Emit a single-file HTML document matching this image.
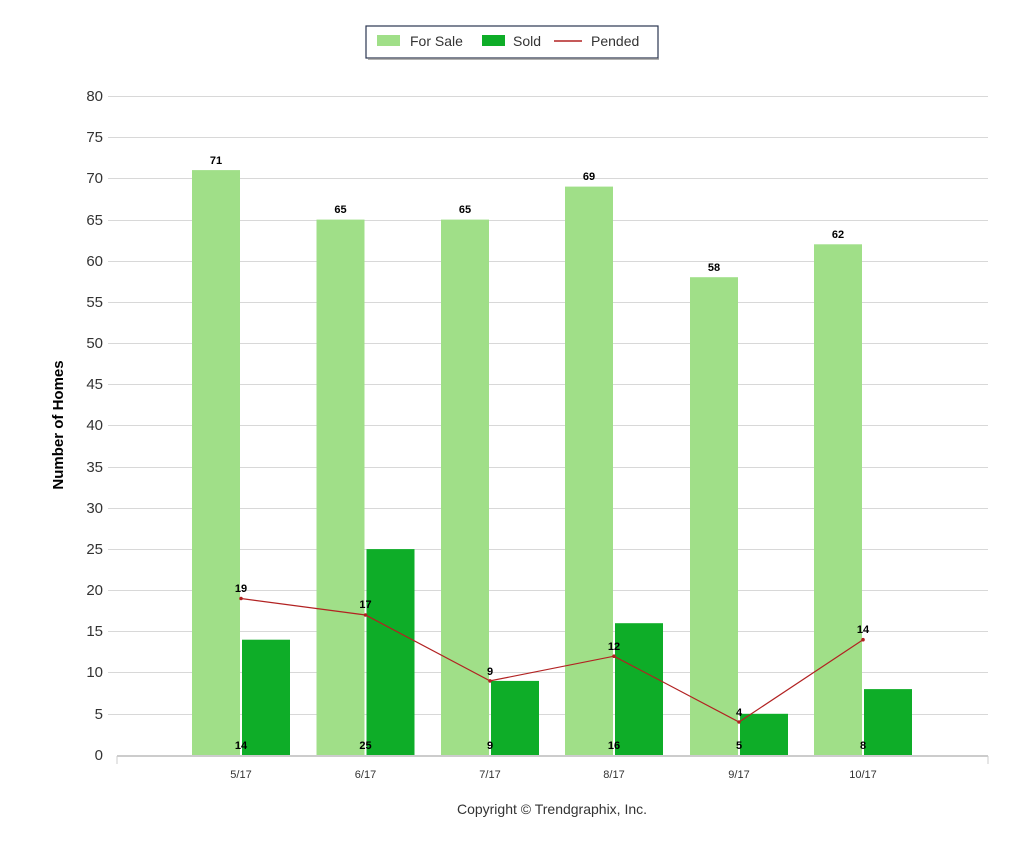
<!DOCTYPE html>
<html><head><meta charset="utf-8"><style>
body{margin:0;background:#fff;}
svg{display:block;font-family:"Liberation Sans",sans-serif;}
.yl{font-size:15px;fill:#333;text-anchor:end;}
.xl{font-size:11px;fill:#333;text-anchor:middle;}
.dl{font-size:11px;font-weight:bold;fill:#000;text-anchor:middle;}
</style></head><body>
<svg width="1024" height="853" viewBox="0 0 1024 853">
<rect x="366" y="26" width="292" height="32" fill="#fff" stroke="#2a3550" stroke-width="1.2"/>
<line x1="368" y1="59" x2="659" y2="59" stroke="#999" stroke-width="1.5"/>
<rect x="377" y="35" width="23" height="11" fill="#a0df88"/>
<text x="410" y="46" font-size="14" fill="#333">For Sale</text>
<rect x="482" y="35" width="23" height="11" fill="#0ead28"/>
<text x="513" y="46" font-size="14" fill="#333">Sold</text>
<line x1="554" y1="41" x2="582" y2="41" stroke="#b22222" stroke-width="1.5"/>
<text x="591" y="46" font-size="14" fill="#333">Pended</text>
<g stroke="#d8d8d8" stroke-width="1">
<line x1="108" x2="988" y1="96.5" y2="96.5"/><line x1="108" x2="988" y1="137.5" y2="137.5"/>
<line x1="108" x2="988" y1="178.5" y2="178.5"/><line x1="108" x2="988" y1="220.5" y2="220.5"/>
<line x1="108" x2="988" y1="261.5" y2="261.5"/><line x1="108" x2="988" y1="302.5" y2="302.5"/>
<line x1="108" x2="988" y1="343.5" y2="343.5"/><line x1="108" x2="988" y1="384.5" y2="384.5"/>
<line x1="108" x2="988" y1="425.5" y2="425.5"/><line x1="108" x2="988" y1="467.5" y2="467.5"/>
<line x1="108" x2="988" y1="508.5" y2="508.5"/><line x1="108" x2="988" y1="549.5" y2="549.5"/>
<line x1="108" x2="988" y1="590.5" y2="590.5"/><line x1="108" x2="988" y1="631.5" y2="631.5"/>
<line x1="108" x2="988" y1="672.5" y2="672.5"/><line x1="108" x2="988" y1="714.5" y2="714.5"/>
</g>
<g>
<text class="yl" x="103" y="101">80</text><text class="yl" x="103" y="142">75</text>
<text class="yl" x="103" y="183">70</text><text class="yl" x="103" y="225">65</text>
<text class="yl" x="103" y="266">60</text><text class="yl" x="103" y="307">55</text>
<text class="yl" x="103" y="348">50</text><text class="yl" x="103" y="389">45</text>
<text class="yl" x="103" y="430">40</text><text class="yl" x="103" y="472">35</text>
<text class="yl" x="103" y="513">30</text><text class="yl" x="103" y="554">25</text>
<text class="yl" x="103" y="595">20</text><text class="yl" x="103" y="636">15</text>
<text class="yl" x="103" y="677">10</text><text class="yl" x="103" y="719">5</text>
<text class="yl" x="103" y="760">0</text>
</g>
<text x="63" y="425" font-size="15" font-weight="bold" fill="#000" text-anchor="middle" transform="rotate(-90 63 425)">Number of Homes</text>
<!-- bars: 8.2375 px/unit, base 755 -->
<g fill="#a0df88">
<rect x="192" y="170.1" width="48" height="584.9"/>
<rect x="316.5" y="219.6" width="48" height="535.4"/>
<rect x="441" y="219.6" width="48" height="535.4"/>
<rect x="565" y="186.6" width="48" height="568.4"/>
<rect x="690" y="277.2" width="48" height="477.8"/>
<rect x="814" y="244.3" width="48" height="510.7"/>
</g>
<g fill="#0ead28">
<rect x="242" y="639.7" width="48" height="115.3"/>
<rect x="366.5" y="549.1" width="48" height="205.9"/>
<rect x="491" y="680.9" width="48" height="74.1"/>
<rect x="615" y="623.2" width="48" height="131.8"/>
<rect x="740" y="713.8" width="48" height="41.2"/>
<rect x="864" y="689.1" width="48" height="65.9"/>
</g>
<line x1="117" y1="756" x2="988" y2="756" stroke="#ccc" stroke-width="2"/>
<line x1="117" y1="756" x2="117" y2="764" stroke="#ccc"/>
<line x1="988" y1="756" x2="988" y2="764" stroke="#ccc"/>
<polyline points="241,598.5 365.5,615 490,680.9 614,656.2 739,722 863,639.7" fill="none" stroke="#b22222" stroke-width="1.2"/>
<g fill="#b22222"><circle cx="241" cy="598.5" r="1.8"/><circle cx="365.5" cy="615" r="1.8"/><circle cx="490" cy="680.9" r="1.8"/><circle cx="614" cy="656.2" r="1.8"/><circle cx="739" cy="722" r="1.8"/><circle cx="863" cy="639.7" r="1.8"/></g>
<g class="dl">
<text class="dl" x="216" y="164">71</text><text class="dl" x="340.5" y="213">65</text>
<text class="dl" x="465" y="213">65</text><text class="dl" x="589" y="180">69</text>
<text class="dl" x="714" y="271">58</text><text class="dl" x="838" y="238">62</text>
<text class="dl" x="241" y="592">19</text><text class="dl" x="365.5" y="608">17</text>
<text class="dl" x="490" y="675">9</text><text class="dl" x="614" y="650">12</text>
<text class="dl" x="739" y="716">4</text><text class="dl" x="863" y="633">14</text>
<text class="dl" x="241" y="749">14</text><text class="dl" x="365.5" y="749">25</text>
<text class="dl" x="490" y="749">9</text><text class="dl" x="614" y="749">16</text>
<text class="dl" x="739" y="749">5</text><text class="dl" x="863" y="749">8</text>
</g>
<g>
<text class="xl" x="241" y="778">5/17</text><text class="xl" x="365.5" y="778">6/17</text>
<text class="xl" x="490" y="778">7/17</text><text class="xl" x="614" y="778">8/17</text>
<text class="xl" x="739" y="778">9/17</text><text class="xl" x="863" y="778">10/17</text>
</g>
<text x="552" y="814" font-size="14" fill="#333" text-anchor="middle">Copyright © Trendgraphix, Inc.</text>
</svg>
</body></html>
